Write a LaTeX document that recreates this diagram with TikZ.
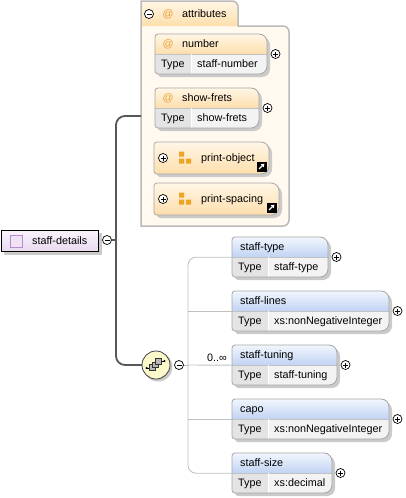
\documentclass[tikz,border=0pt]{standalone}
\usepackage{fontspec}
\setmainfont{Liberation Sans}
\usetikzlibrary{arrows.meta}

\definecolor{boxgray}{RGB}{168,168,168}
\definecolor{shadowgray}{RGB}{202,202,202}
\definecolor{typegray}{RGB}{228,228,228}
\definecolor{valuegray}{RGB}{243,243,243}
\definecolor{bluetop}{RGB}{242,246,253}
\definecolor{bluebot}{RGB}{192,211,243}
\definecolor{orangetop}{RGB}{255,246,230}
\definecolor{orangebot}{RGB}{253,222,172}
\definecolor{atsign}{RGB}{234,160,58}
\definecolor{panelfill}{RGB}{255,249,239}
\definecolor{panelline}{RGB}{186,186,186}
\definecolor{linedark}{RGB}{88,88,88}
\definecolor{linelight}{RGB}{192,192,192}
\definecolor{seqfill}{RGB}{251,248,204}
\definecolor{lilactop}{RGB}{249,243,251}
\definecolor{lilacbot}{RGB}{232,218,240}
\definecolor{lilacline}{RGB}{184,140,204}
\definecolor{lilacfill}{RGB}{238,226,244}
\definecolor{groupicon}{RGB}{240,164,36}

\tikzset{
  txt/.style={anchor=base west, inner sep=0pt},
  btn/.style={circle, draw=black, line width=0.7pt, fill=white, minimum size=9pt, inner sep=0pt},
  minusbtn/.style={btn, path picture={
    \draw[line width=0.7pt] ([xshift=-2.5pt]path picture bounding box.center) -- ([xshift=2.5pt]path picture bounding box.center);}},
  plusbtn/.style={btn, path picture={
    \draw[line width=0.7pt] ([xshift=-2.5pt]path picture bounding box.center) -- ([xshift=2.5pt]path picture bounding box.center)
      ([yshift=-2.5pt]path picture bounding box.center) -- ([yshift=2.5pt]path picture bounding box.center);}},
  hull/.style={inner sep=0pt, anchor=north west},
  mainconn/.style={linedark, line width=1.8pt},
  thinconn/.style={linelight, line width=0.9pt},
}

% 盒子外形：左边小圆角，右边大圆角
\newcommand\boxpath[5]{%
  \path[#1] (#2,#3+3) arc[start angle=180,end angle=270,radius=3]
    -- (#4-8,#3) arc[start angle=270,end angle=360,radius=8]
    -- (#4,#5-8) arc[start angle=0,end angle=90,radius=8]
    -- (#2+3,#5) arc[start angle=90,end angle=180,radius=3] -- cycle;}

% 带 Type 行的盒子：名字, x0, y0, x1, 表头颜色, 标题, 类型, 标题缩进
\newcommand\typedbox[8]{%
  \pgfmathsetmacro\yb{#3+40}\pgfmathsetmacro\yd{#3+20}%
  \pgfmathsetmacro\xt{#2+36}\pgfmathsetmacro\bw{#4-#2}%
  \boxpath{fill=shadowgray}{#2+3}{#3+3}{#4+3}{\yb+3}
  \begin{scope}
    \boxpath{clip}{#2}{#3}{#4}{\yb}
    \fill[#5] (#2,#3) rectangle (#4,\yd);
    \fill[typegray] (#2,\yd) rectangle (\xt,\yb);
    \fill[valuegray] (\xt,\yd) rectangle (#4,\yb);
  \end{scope}
  \draw[boxgray!70, line width=0.6pt] (#2,\yd) -- (#4,\yd);
  \draw[white, line width=0.8pt] (\xt,\yd) -- (\xt,\yb);
  \boxpath{draw=boxgray, line width=0.8pt}{#2}{#3}{#4}{\yb}
  \node[hull, minimum width=\bw pt, minimum height=40pt] (#1) at (#2,#3) {};
  \node[txt] (#1-title) at (#2+#8,#3+13.5) {#6};
  \node[txt] (#1-type) at (#2+6,#3+33.5) {Type};
  \node[txt] (#1-value) at (\xt+6,#3+33.5) {#7};
  \node[plusbtn] (#1-plus) at (#4+8.5,\yd) {};
}
\newcommand\elembox[6]{\typedbox{#1}{#2}{#3}{#4}{top color=bluetop, bottom color=bluebot}{#5}{#6}{8}}
\newcommand\attrbox[6]{%
  \typedbox{#1}{#2}{#3}{#4}{top color=orangetop, bottom color=orangebot}{#5}{#6}{27}
  \node[txt, text=atsign] (#1-at) at (#2+7.5,#3+13.5) {@};
}

% 属性组引用：名字, x0, y0, x1, y1, 标题
\newcommand\refbox[6]{%
  \pgfmathsetmacro\ym{(#3+#5)/2}\pgfmathsetmacro\bw{#4-#2}\pgfmathsetmacro\bh{#5-#3}%
  \boxpath{fill=shadowgray}{#2+3}{#3+3}{#4+3}{#5+3}
  \boxpath{top color=orangetop, bottom color=orangebot, draw=boxgray, line width=0.8pt}{#2}{#3}{#4}{#5}
  \node[hull, minimum width=\bw pt, minimum height=\bh pt] (#1) at (#2,#3) {};
  \node[plusbtn] (#1-plus) at (#2+9,\ym) {};
  \fill[groupicon] (#2+25,\ym-6.5) rectangle ++(5,5) (#2+25,\ym+0.5) rectangle ++(5,5)
    (#2+32,\ym+0.5) rectangle ++(5,5);
  \node[txt] (#1-title) at (#2+47,\ym+3) {#6};
  \fill[black] (#4-12.5,#5-12.5) rectangle ++(10,10);
  \draw[white, line width=1.2pt, -{Triangle[length=3.2pt,width=4pt]}] (#4-10,#5-5) -- (#4-4.6,#5-10.4);
}

\begin{document}
\begin{tikzpicture}[x=1pt, y=-1pt, font=\fontsize{10.8}{13}\selectfont]
  \useasboundingbox (0,0) rectangle (405,498);

  % 属性面板
  \fill[panelfill] (141,226) -- (141,1) -- (232,1) arc[start angle=270,end angle=360,radius=6]
    -- (238,26) -- (283,26) arc[start angle=270,end angle=360,radius=6]
    -- (289,220) arc[start angle=0,end angle=90,radius=6] -- cycle;
  \shade[top color=orangetop, bottom color=orangebot] (141,1) -- (232,1)
    arc[start angle=270,end angle=360,radius=6] -- (238,26) -- (141,26) -- cycle;
  \draw[panelline, line width=1.5pt] (141,226) -- (141,1) -- (232,1) arc[start angle=270,end angle=360,radius=6]
    -- (238,26) -- (283,26) arc[start angle=270,end angle=360,radius=6]
    -- (289,220) arc[start angle=0,end angle=90,radius=6] -- cycle;
  \node[hull, minimum width=148pt, minimum height=225pt] (attrpanel) at (141,1) {};
  \node[minusbtn] (attrminus) at (149,14) {};
  \node[txt, text=atsign] (attrat) at (162.5,17.5) {@};
  \node[txt] (attrtitle) at (182,17.5) {attributes};
  \coordinate (attrin) at (141,116);

  \attrbox{number}{155}{34}{267}{number}{staff-number}
  \attrbox{frets}{155}{88}{259}{show-frets}{show-frets}
  \refbox{pobject}{154}{142}{269}{174}{print-object}
  \refbox{pspacing}{154}{183}{279}{215}{print-spacing}

  % 根元素
  \fill[shadowgray] (4,233) rectangle (102,255);
  \node[hull, draw=black, line width=1.2pt, top color=lilactop, bottom color=lilacbot,
    minimum width=97pt, minimum height=21pt] (details) at (1,230) {};
  \node[hull, draw=lilacline, fill=lilacfill, line width=0.8pt, minimum size=12pt] (detailsicon) at (9.5,234.5) {};
  \node[txt] (detailstitle) at (32,244) {staff-details};
  \node[minusbtn] (detailsminus) at (107,240) {};

  % 粗连线
  \coordinate (jmain) at (116,240);
  \draw[mainconn] (detailsminus) -- (jmain);
  \draw[mainconn, rounded corners=9] (jmain) |- (attrin);
  \draw[mainconn, rounded corners=9] (jmain) |- (156,365);

  % 序列节点
  \fill[shadowgray] (158,367) circle (14.5);
  \node[circle, draw=black!75, line width=0.8pt, fill=seqfill, minimum size=28pt, inner sep=0pt] (seq) at (156,365) {};
  \draw[black, line width=0.6pt] (146.7,368) -- (150,368) (161,361) -- (164.5,361);
  \fill[black] (146.7,368) circle (1.2) (164.5,361) circle (1.2);
  \foreach \dx/\dy in {149.5/364.5, 152.5/361.8, 155.5/358.5}
    \draw[black!80, fill=gray!55, line width=0.6pt] (\dx,\dy) rectangle ++(5.8,5.8);
  \node[minusbtn] (seqminus) at (179,365) {};
  \node[txt, anchor=base east] (seqcard) at (227,361) {0..∞};

  % 子元素
  \elembox{stafftype}{232}{237}{328}{staff-type}{staff-type}
  \elembox{stafflines}{232}{291}{389}{staff-lines}{xs:nonNegativeInteger}
  \elembox{stafftuning}{232}{345}{337}{staff-tuning}{staff-tuning}
  \elembox{capo}{232}{399}{389}{capo}{xs:nonNegativeInteger}
  \elembox{staffsize}{232}{453}{332}{staff-size}{xs:decimal}

  % 细连线
  \coordinate (jseq) at (188,365);
  \draw[thinconn] (seqminus) -- (jseq);
  \draw[thinconn, rounded corners=8] (jseq) |- (stafftype.west);
  \draw[thinconn, rounded corners=8] (jseq) |- (staffsize.west);
  \draw[thinconn] (jseq |- stafflines.west) -- (stafflines.west);
  \draw[thinconn] (jseq) -- (stafftuning.west);
  \draw[thinconn] (jseq |- capo.west) -- (capo.west);
\end{tikzpicture}
\end{document}
